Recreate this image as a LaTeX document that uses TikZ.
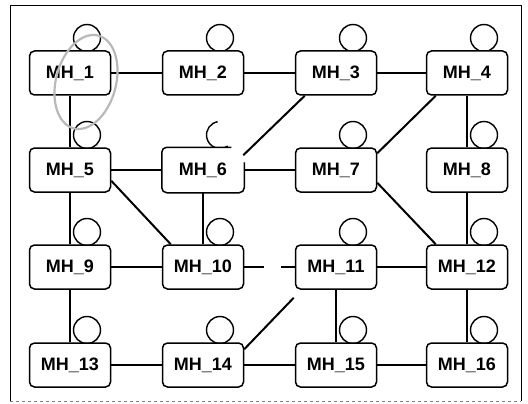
\documentclass[tikz,border=0pt]{standalone}
\usepackage{fontspec}
\setmainfont{Liberation Sans}
\usetikzlibrary{calc}
\begin{document}
\begin{tikzpicture}[x=1pt,y=-1pt,
  mh/.style={draw, fill=white, rounded corners=5pt, minimum width=81pt, minimum height=44pt,
    inner sep=0pt, line width=1.5pt, font=\bfseries\fontsize{18}{18}\selectfont},
  mhopen/.style={mh, draw=none},
  head/.style={draw, fill=white, circle, minimum size=27pt, inner sep=0pt, line width=1.4pt},
  link/.style={line width=2pt},
  frame/.style={line width=0.7pt}]
\useasboundingbox (0,0) rectangle (528,404);
% frame
\draw[frame] (10,401) -- (10,5) -- (521,5) -- (521,401);
\draw[frame, gray, dashed] (10,401) -- (521,401);
% node coordinates
\foreach \n/\x/\y in {1/70/73,2/203/73,3/336/73,4/467/73,
  5/70/170,6/203/170,7/336/170,8/467/170,
  9/70/267,10/203/267,11/336/267,12/467/267,
  13/70/365,14/203/365,15/336/365,16/467/365}
  \coordinate (c\n) at (\x,\y);
% heads
\foreach \n in {1,2,3,4,5,7,8,9,10,11,12,13,14,15,16}
  \node[head] (h\n) at ($(c\n)+(17,-35)$) {};
\coordinate (h6) at ($(c6)+(17,-35)$);
\draw[line width=1.4pt] (h6) ++(-100:13.5) arc[start angle=-100, end angle=-305, radius=13.5];
% boxes
\foreach \n in {1,2,3,4,5,7,8,9,10,11,12,13,14,15,16}
  \node[mh] (MH\n) at (c\n) {MH\_\n};
\node[mhopen] (MH6) at (c6) {MH\_6};
\draw[line width=1.5pt, rounded corners=5pt] ($(MH6.north east)+(-13,0)$) -- (MH6.north west)
  -- (MH6.south west) -- (MH6.south east) -- ($(MH6.north east)+(0,15)$);
% straight links
\draw[link] (MH1) -- (MH2);
\draw[link] (MH2) -- (MH3);
\draw[link] (MH3) -- (MH4);
\draw[link] (MH1) -- (MH5);
\draw[link] (MH5) -- (MH6);
\draw[link] (MH6) -- (MH7);
\draw[link] (MH4) -- (MH8);
\draw[link] (MH5) -- (MH9);
\draw[link] (MH6) -- (MH10);
\draw[link] (MH8) -- (MH12);
\draw[link] (MH9) -- (MH10);
\draw[link, dash pattern=on 20pt off 17pt on 40pt] (MH10) -- (MH11);
\draw[link] (MH11) -- (MH12);
\draw[link] (MH9) -- (MH13);
\draw[link] (MH11) -- (MH15);
\draw[link] (MH12) -- (MH16);
\draw[link] (MH13) -- (MH14);
\draw[link] (MH14) -- (MH15);
\draw[link] (MH15) -- (MH16);
% diagonal links
\draw[link] ($(MH3.south west)+(10,0)$) -- ($(MH6.north east)+(-1,8)$);
\draw[link] ($(MH4.south west)+(10,0)$) -- ($(MH7.north east)+(0,6)$);
\draw[link] ($(MH5.south east)+(0,-12)$) -- ($(MH10.north west)+(9,0)$);
\draw[link] ($(MH7.south east)+(0,-10)$) -- ($(MH12.north west)+(10,0)$);
\draw[link] ($(MH14.north east)+(0,7)$) -- ($(MH11.south west)+(-1,8)$);
% grey ellipse
\draw[draw=gray!55, line width=2.2pt, rotate around={-15:(86,82)}] (86,82) ellipse [x radius=30, y radius=48];
\end{tikzpicture}
\end{document}
